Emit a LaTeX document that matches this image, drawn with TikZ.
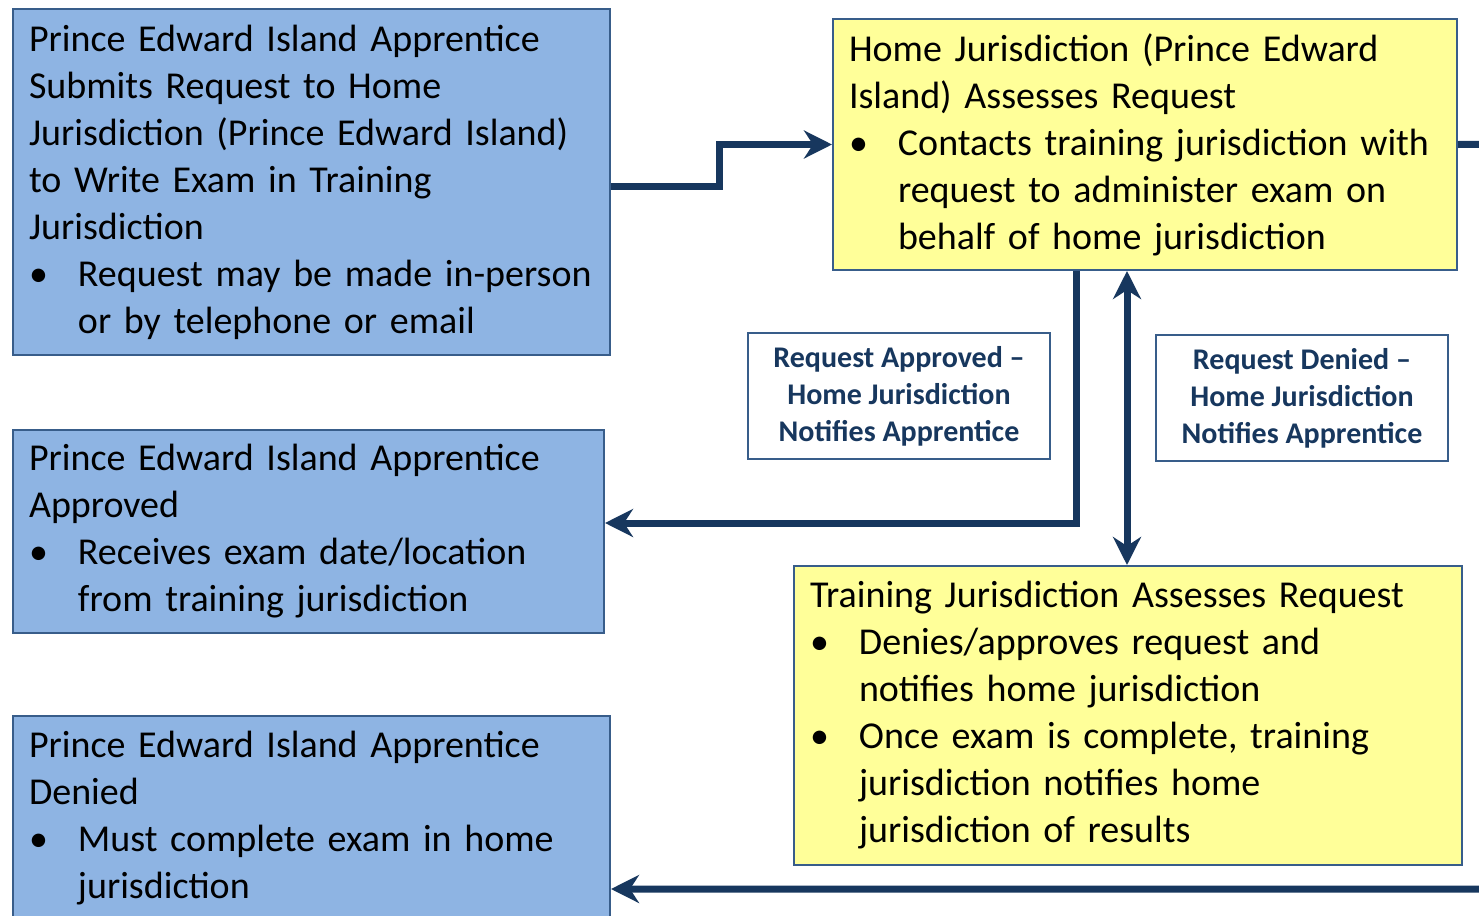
\documentclass[tikz,border=0pt]{standalone}
\usepackage{fontspec}
\setmainfont{Carlito}
\usetikzlibrary{arrows.meta}
\definecolor{boxblue}{HTML}{8EB4E3}
\definecolor{boxyellow}{HTML}{FFFF99}
\definecolor{edgec}{HTML}{385D8A}
\definecolor{connc}{HTML}{17375E}
\newcommand\nl{\unskip\hfil\break}
\newcommand\bul{\par\hangindent=24.5pt\hangafter=1\noindent\makebox[24.5pt][l]{\hspace{0pt}•}}
\tikzset{
  box/.style={draw=edgec, line width=1pt, anchor=north west, inner xsep=8pt, inner ysep=0pt,
    align=left, font=\fontsize{19}{23.5}\selectfont, text=black},
  bluebox/.style={box, fill=boxblue},
  yellowbox/.style={box, fill=boxyellow},
  lbl/.style={draw=edgec, line width=1pt, fill=white, align=center, inner sep=0pt,
    font=\bfseries\fontsize{15}{18.5}\selectfont, text=connc},
  conn/.style={draw=connc, line width=3.5pt,
    -{Stealth[length=14pt,width=14pt,inset=4.5pt]}},
  conn2/.style={draw=connc, line width=3.5pt,
    {Stealth[length=14pt,width=14pt,inset=4.5pt]}-{Stealth[length=14pt,width=14pt,inset=4.5pt]}}
}
\begin{document}
\begin{tikzpicture}[x=0.5pt,y=-0.5pt]
\useasboundingbox (0,0) rectangle (1479,916);
\clip (0,0) rectangle (1479,916);
\node[bluebox, minimum width=298.5pt, minimum height=173pt, text width=282.5pt] (A) at (12,8)
 {Prince Edward Island Apprentice\nl Submits Request to Home\nl Jurisdiction (Prince Edward Island)\nl to Write Exam in Training\nl Jurisdiction
 \bul Request may be made in-person\nl or by telephone or email\par};
\node[yellowbox, minimum width=312pt, minimum height=125.5pt, text width=296pt] (B) at (832,18)
 {Home Jurisdiction (Prince Edward\nl Island) Assesses Request
 \bul Contacts training jurisdiction with\nl request to administer exam on\nl behalf of home jurisdiction\par};
\node[bluebox, minimum width=295.5pt, minimum height=101.5pt, text width=279.5pt] (C) at (12,429)
 {Prince Edward Island Apprentice\nl Approved
 \bul Receives exam date/location\nl from training jurisdiction\par};
\node[bluebox, minimum width=298.5pt, minimum height=102pt, text width=282.5pt] (D) at (12,715)
 {Prince Edward Island Apprentice\nl Denied
 \bul Must complete exam in home\nl jurisdiction\par};
\node[yellowbox, minimum width=334pt, minimum height=149.5pt, text width=318pt] (E) at (793,565)
 {Training Jurisdiction Assesses Request
 \bul Denies/approves request and\nl notifies home jurisdiction
 \bul Once exam is complete, training\nl jurisdiction notifies home\nl jurisdiction of results\par};
\node[lbl, minimum width=151pt, minimum height=63pt] (L1) at (899,396)
 {Request Approved –\\Home Jurisdiction\\Notifies Apprentice};
\node[lbl, minimum width=146pt, minimum height=63pt] (L2) at (1302,398)
 {Request Denied –\\Home Jurisdiction\\Notifies Apprentice};
\coordinate (jog) at (719,186);
\coordinate (off) at (1520,144);
\draw[conn] (A.east |- 0,186) -- (jog) |- (B.west);
\draw[conn] (B.south -| 1076,0) |- (C.east |- 0,523);
\draw[conn2] (B.south -| 1127,0) -- (E.north -| 1127,0);
\draw[conn] (B.east) -- (off) |- (D.east |- 0,889);
\end{tikzpicture}
\end{document}
